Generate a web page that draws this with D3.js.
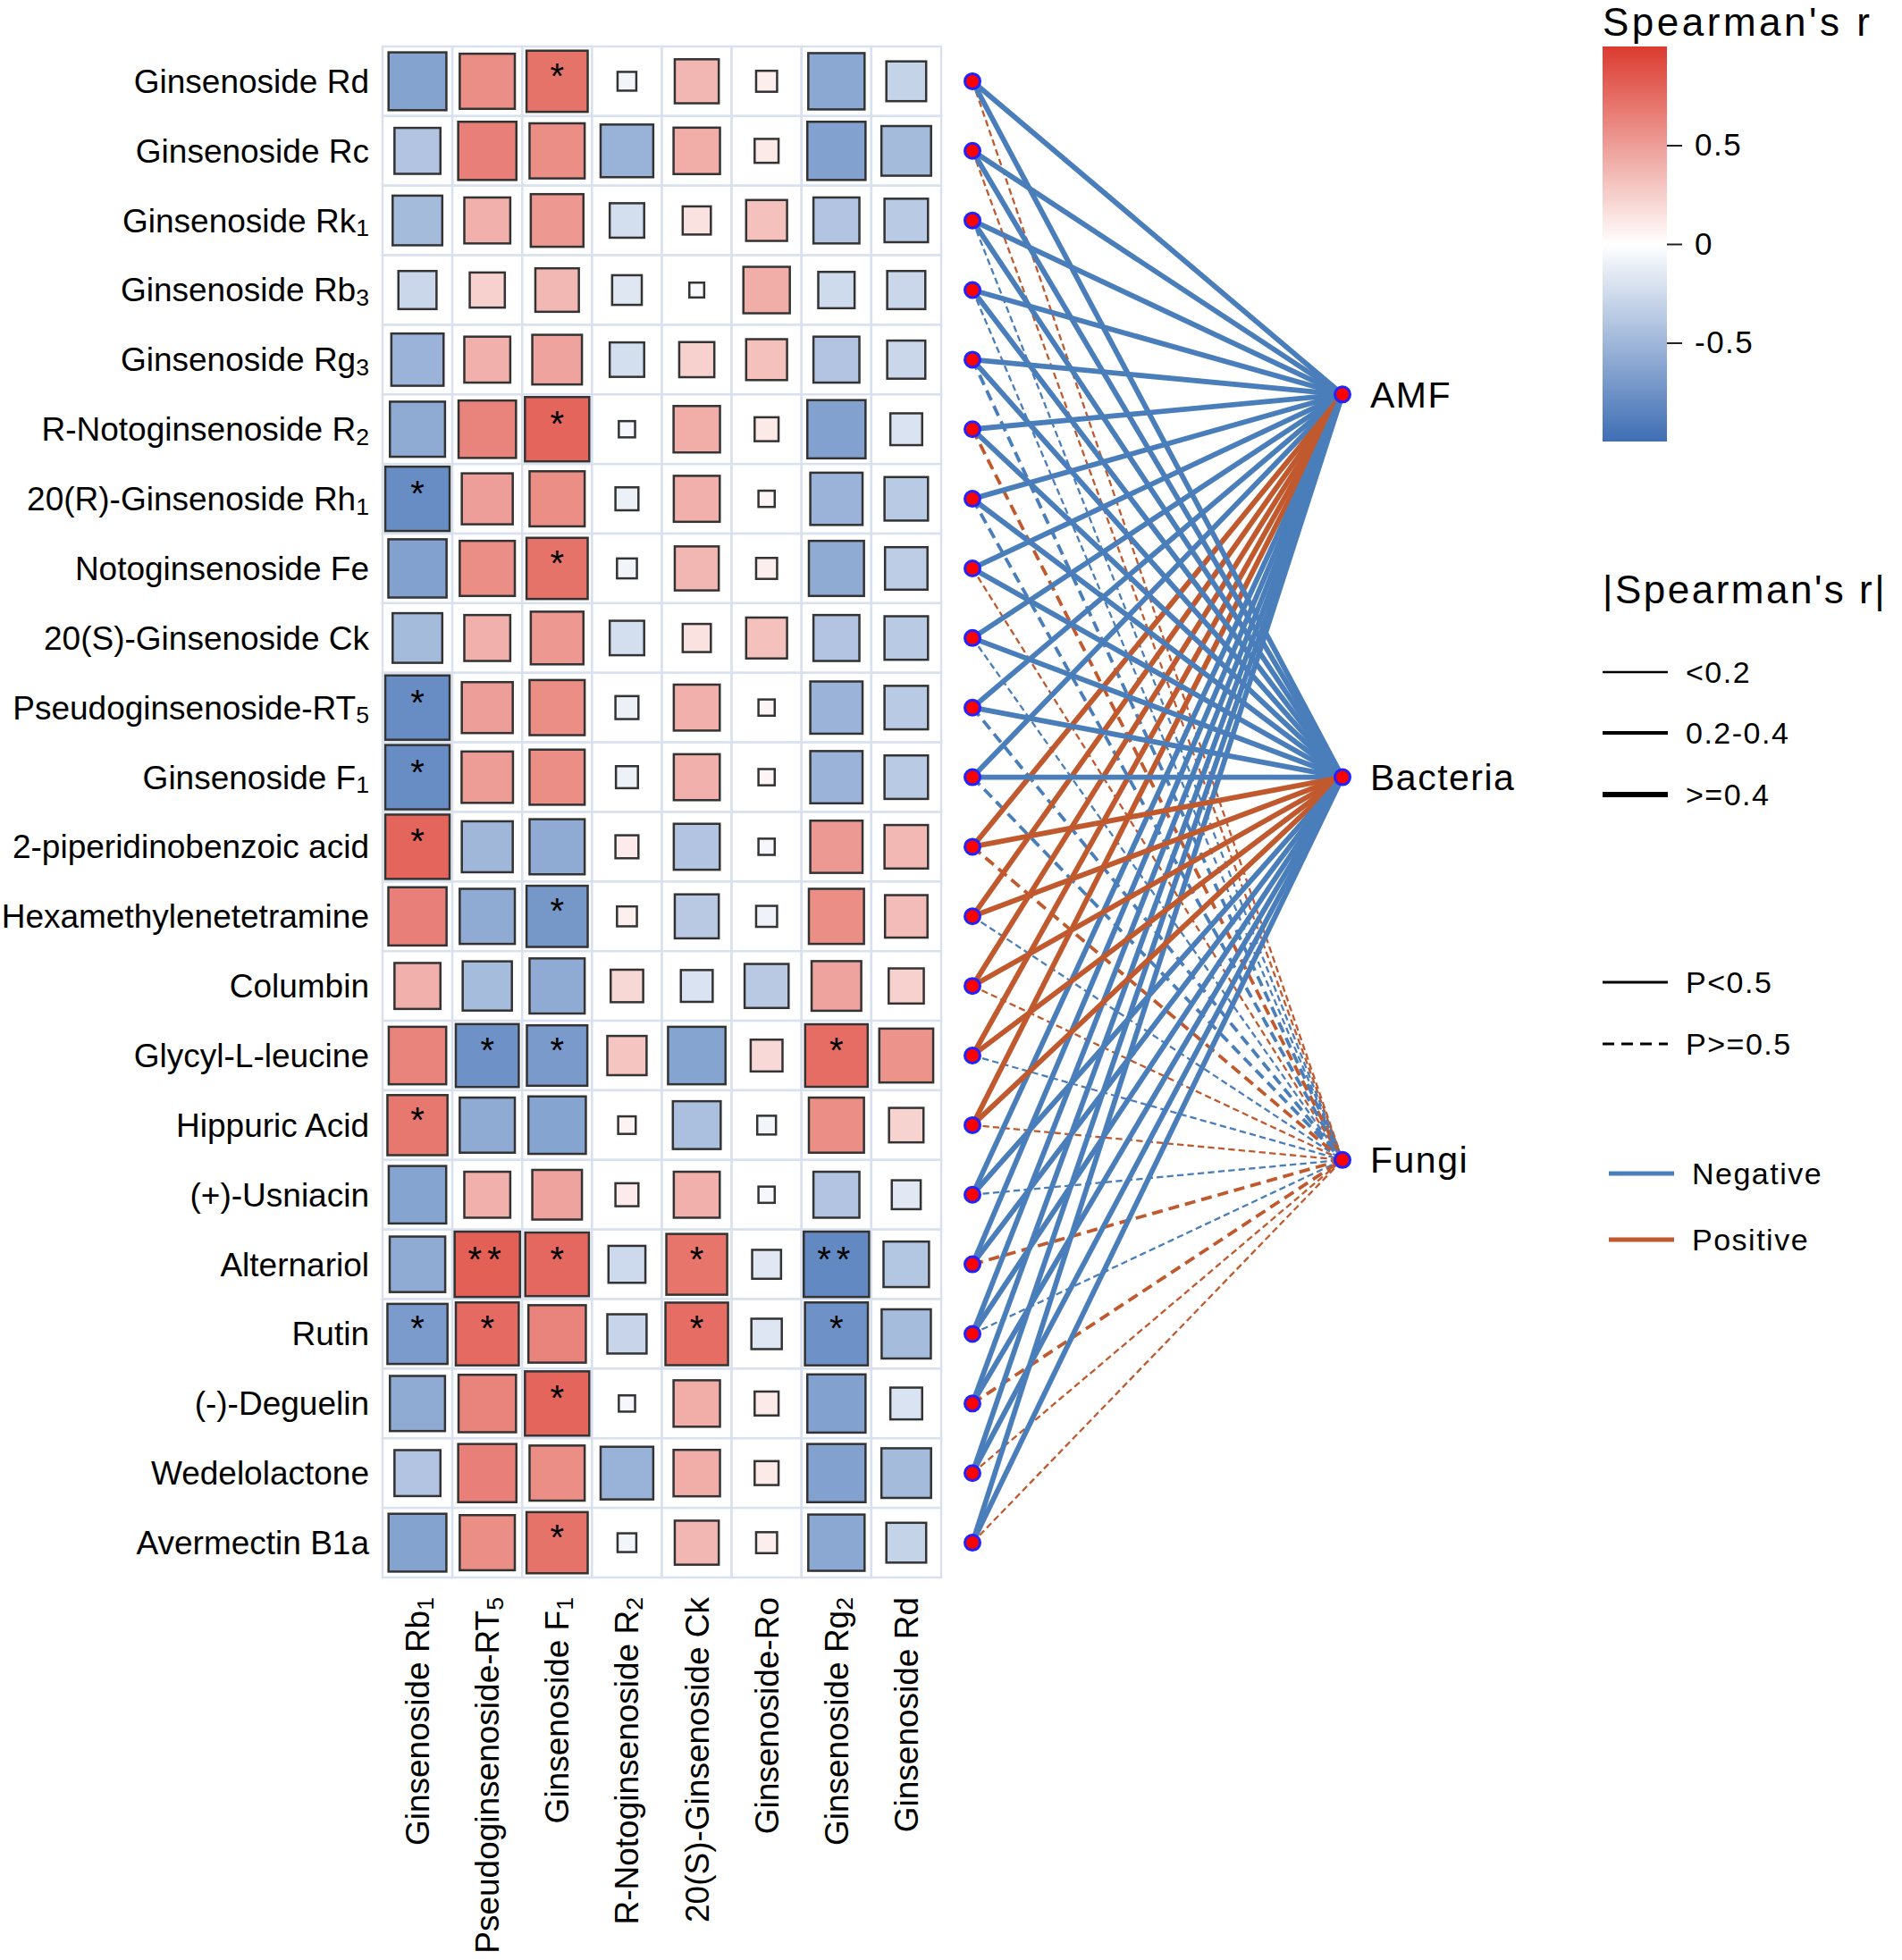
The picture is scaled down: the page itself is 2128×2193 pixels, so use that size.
<!DOCTYPE html>
<html>
<head>
<meta charset="utf-8">
<style>
  body { margin: 0; background: #fff; }
  text { font-family: "Liberation Sans", Arial, sans-serif; fill: #000; }
</style>
</head>
<body>
<div id="chart"></div>
<script src="https://cdnjs.cloudflare.com/ajax/libs/d3/7.8.5/d3.min.js"></script>
<script>
// rows (metabolites) and columns (ginsenosides); "_x" marks a subscript
var metabolites = [
  "Ginsenoside Rd", "Ginsenoside Rc", "Ginsenoside Rk_1", "Ginsenoside Rb_3",
  "Ginsenoside Rg_3", "R-Notoginsenoside R_2", "20(R)-Ginsenoside Rh_1",
  "Notoginsenoside Fe", "20(S)-Ginsenoside Ck", "Pseudoginsenoside-RT_5",
  "Ginsenoside F_1", "2-piperidinobenzoic acid", "Hexamethylenetetramine",
  "Columbin", "Glycyl-L-leucine", "Hippuric Acid", "(+)-Usniacin",
  "Alternariol", "Rutin", "(-)-Deguelin", "Wedelolactone", "Avermectin B1a"
];
var ginsenosides = [
  "Ginsenoside Rb_1", "Pseudoginsenoside-RT_5", "Ginsenoside F_1",
  "R-Notoginsenoside R_2", "20(S)-Ginsenoside Ck", "Ginsenoside-Ro",
  "Ginsenoside Rg_2", "Ginsenoside Rd"
];

// Spearman's r, one row per metabolite (columns in ginsenosides order)
var corr = [
  [-0.76,  0.69,  0.85, -0.08,  0.44,  0.10, -0.72, -0.36],
  [-0.48,  0.77,  0.69, -0.63,  0.49,  0.13, -0.77, -0.56],
  [-0.56,  0.48,  0.63, -0.27,  0.18,  0.38, -0.48, -0.43],
  [-0.33,  0.28,  0.43, -0.20, -0.05,  0.49, -0.30, -0.33],
  [-0.62,  0.48,  0.56, -0.27,  0.28,  0.38, -0.48, -0.33],
  [-0.69,  0.75,  0.94, -0.06,  0.49,  0.13, -0.77, -0.23],
  [-0.94,  0.59,  0.69, -0.12,  0.48,  0.06, -0.62, -0.43],
  [-0.77,  0.69,  0.85, -0.09,  0.44,  0.10, -0.69, -0.41],
  [-0.56,  0.48,  0.63, -0.27,  0.18,  0.38, -0.48, -0.43],
  [-0.94,  0.59,  0.69, -0.12,  0.48,  0.06, -0.62, -0.43],
  [-0.94,  0.60,  0.69, -0.11,  0.48,  0.06, -0.62, -0.43],
  [ 0.94, -0.59, -0.69,  0.12, -0.48, -0.06,  0.62,  0.43],
  [ 0.77, -0.69, -0.85,  0.09, -0.44, -0.10,  0.69,  0.41],
  [ 0.48, -0.55, -0.69,  0.24, -0.23, -0.44,  0.56,  0.28],
  [ 0.75, -0.90, -0.83,  0.35, -0.75,  0.23,  0.89,  0.66],
  [ 0.82, -0.69, -0.75,  0.07, -0.52, -0.08,  0.69,  0.27],
  [-0.75,  0.48,  0.56,  0.12,  0.48, -0.06, -0.48, -0.19],
  [-0.70,  0.97,  0.92, -0.31,  0.84, -0.19, -0.97, -0.47],
  [-0.82,  0.90,  0.75, -0.35,  0.89, -0.21, -0.90, -0.55],
  [-0.69,  0.75,  0.94, -0.06,  0.49,  0.13, -0.77, -0.23],
  [-0.48,  0.77,  0.69, -0.63,  0.49,  0.13, -0.77, -0.56],
  [-0.76,  0.69,  0.85, -0.08,  0.44,  0.10, -0.72, -0.36]
];

// significance marks per cell
var stars = [
  ["", "", "*", "", "", "", "", ""],
  ["", "", "", "", "", "", "", ""],
  ["", "", "", "", "", "", "", ""],
  ["", "", "", "", "", "", "", ""],
  ["", "", "", "", "", "", "", ""],
  ["", "", "*", "", "", "", "", ""],
  ["*", "", "", "", "", "", "", ""],
  ["", "", "*", "", "", "", "", ""],
  ["", "", "", "", "", "", "", ""],
  ["*", "", "", "", "", "", "", ""],
  ["*", "", "", "", "", "", "", ""],
  ["*", "", "", "", "", "", "", ""],
  ["", "", "*", "", "", "", "", ""],
  ["", "", "", "", "", "", "", ""],
  ["", "*", "*", "", "", "", "*", ""],
  ["*", "", "", "", "", "", "", ""],
  ["", "", "", "", "", "", "", ""],
  ["", "**", "*", "", "*", "", "**", ""],
  ["*", "*", "", "", "*", "", "*", ""],
  ["", "", "*", "", "", "", "", ""],
  ["", "", "", "", "", "", "", ""],
  ["", "", "*", "", "", "", "", ""]
];

// links metabolite -> microbial community
var microbes = ["AMF", "Bacteria", "Fungi"];
var amfR = [-0.52, -0.50, -0.48, -0.47, -0.49, -0.53, -0.51, -0.52, -0.46, -0.50, -0.48,
             0.45,  0.47,  0.44,  0.49,  0.46, -0.51, -0.55, -0.53, -0.50, -0.48, -0.52];
var amfP = [0.12, 0.15, 0.18, 0.21, 0.16, 0.10, 0.13, 0.11, 0.22, 0.14, 0.17,
            0.24, 0.20, 0.26, 0.19, 0.23, 0.12, 0.08, 0.10, 0.13, 0.18, 0.11];
var bacteriaR = [-0.50, -0.47, -0.49, -0.45, -0.48, -0.51, -0.53, -0.50, -0.47, -0.52, -0.49,
                  0.48,  0.46,  0.45,  0.50,  0.44, -0.49, -0.54, -0.52, -0.51, -0.47, -0.50];
var bacteriaP = [0.14, 0.18, 0.16, 0.23, 0.17, 0.12, 0.11, 0.14, 0.19, 0.12, 0.15,
                 0.20, 0.22, 0.25, 0.16, 0.27, 0.15, 0.09, 0.11, 0.12, 0.19, 0.14];
var fungiR = [ 0.12,  0.10, -0.14, -0.11, -0.28,  0.31, -0.26,  0.13, -0.12, -0.27, -0.29,
               0.25, -0.15,  0.11, -0.13,  0.12, -0.14,  0.34, -0.12,  0.33,  0.16,  0.13];
var fungiP = [0.71, 0.78, 0.66, 0.74, 0.58, 0.55, 0.61, 0.69, 0.73, 0.60, 0.57,
              0.62, 0.67, 0.76, 0.70, 0.72, 0.68, 0.52, 0.75, 0.54, 0.64, 0.70];

var colorTicks = [0.5, 0, -0.5];
var widthBreaks = ["<0.2", "0.2-0.4", ">=0.4"];
var pBreaks = ["P<0.5", "P>=0.5"];
var signLabels = ["Negative", "Positive"];

var W = 2128, H = 2193;
var svg = d3.select("#chart").append("svg")
  .attr("width", W).attr("height", H);

var blue = "#4A7EBB", orange = "#C05A2E";

var x = d3.scaleBand().domain(d3.range(ginsenosides.length)).range([428, 1053]);
var y = d3.scaleBand().domain(d3.range(metabolites.length)).range([52, 1765]);
var rowPos = d3.scaleLinear().domain([0, metabolites.length]).range([52, 1765]);
var size = d3.scaleSqrt().domain([0, 1]).range([0, x.bandwidth() * 0.95]);
var color = d3.scaleLinear().domain([-1, 0, 1]).range(["#3F6EB4", "#FFFFFF", "#DC3B2F"]);

function label(sel, name) {
  var parts = name.split("_");
  sel.append("tspan").text(parts[0]);
  if (parts[1]) {
    sel.append("tspan").attr("font-size", "0.72em").attr("dy", "0.18em").text(parts[1]);
  }
}

// ---- heatmap ----
var cells = [];
corr.forEach(function(row, i) {
  row.forEach(function(r, j) { cells.push({i: i, j: j, r: r, s: stars[i][j]}); });
});

var hm = svg.append("g");
hm.selectAll("rect.bg").data(cells).enter().append("rect")
  .attr("class", "bg")
  .attr("x", function(d) { return x(d.j); })
  .attr("y", function(d) { return y(d.i); })
  .attr("width", x.bandwidth())
  .attr("height", y.bandwidth())
  .attr("fill", "#fff")
  .attr("stroke", "#D9E1EF")
  .attr("stroke-width", 2.5);

hm.selectAll("rect.sq").data(cells).enter().append("rect")
  .attr("class", "sq")
  .attr("x", function(d) { return x(d.j) + x.bandwidth() / 2 - size(Math.abs(d.r)) / 2; })
  .attr("y", function(d) { return y(d.i) + y.bandwidth() / 2 - size(Math.abs(d.r)) / 2; })
  .attr("width", function(d) { return size(Math.abs(d.r)); })
  .attr("height", function(d) { return size(Math.abs(d.r)); })
  .attr("fill", function(d) { return color(d.r); })
  .attr("fill-opacity", 0.84)
  .attr("stroke", "#333")
  .attr("stroke-width", 2.5);

hm.selectAll("text.star").data(cells.filter(function(d) { return d.s; })).enter().append("text")
  .attr("class", "star")
  .attr("x", function(d) { return x(d.j) + x.bandwidth() / 2; })
  .attr("y", function(d) { return y(d.i) + y.bandwidth() / 2 + 8; })
  .attr("text-anchor", "middle")
  .attr("font-size", 40)
  .attr("letter-spacing", function(d) { return d.s.length > 1 ? 6 : 0; })
  .text(function(d) { return d.s; });

// row labels
hm.selectAll("text.row").data(metabolites).enter().append("text")
  .attr("class", "row")
  .attr("x", 413)
  .attr("y", function(d, i) { return y(i) + y.bandwidth() / 2; })
  .attr("dy", "0.35em")
  .attr("text-anchor", "end")
  .attr("font-size", 37)
  .each(function(d) { label(d3.select(this), d); });

// column labels
hm.selectAll("text.col").data(ginsenosides).enter().append("text")
  .attr("class", "col")
  .attr("transform", function(d, j) {
    return "translate(" + (x(j) + x.bandwidth() / 2) + ",1787) rotate(-90)";
  })
  .attr("dy", "0.35em")
  .attr("text-anchor", "end")
  .attr("font-size", 37)
  .each(function(d) { label(d3.select(this), d); });

// ---- network ----
var leftX = 1088, rightX = 1502;
var targetY = [rowPos(5), rowPos(10.5), rowPos(16)];
var linkR = [amfR, bacteriaR, fungiR];
var linkP = [amfP, bacteriaP, fungiP];

function lineWidth(r) {
  var a = Math.abs(r);
  return a < 0.2 ? 2.3 : (a < 0.4 ? 3.8 : 5.8);
}

var links = [];
microbes.forEach(function(m, k) {
  metabolites.forEach(function(name, i) {
    links.push({i: i, k: k, r: linkR[k][i], p: linkP[k][i]});
  });
});
links.sort(function(a, b) { return (b.p >= 0.5) - (a.p >= 0.5); });

var net = svg.append("g");
net.selectAll("line").data(links).enter().append("line")
  .attr("x1", leftX)
  .attr("y1", function(d) { return y(d.i) + y.bandwidth() / 2; })
  .attr("x2", rightX)
  .attr("y2", function(d) { return targetY[d.k]; })
  .attr("stroke", function(d) { return d.r < 0 ? blue : orange; })
  .attr("stroke-width", function(d) { return lineWidth(d.r); })
  .attr("stroke-dasharray", function(d) {
    var w = lineWidth(d.r);
    return d.p >= 0.5 ? (w * 3.2) + "," + (w * 1.8) : null;
  });

net.selectAll("circle.src").data(metabolites).enter().append("circle")
  .attr("class", "src")
  .attr("cx", leftX)
  .attr("cy", function(d, i) { return y(i) + y.bandwidth() / 2; })
  .attr("r", 8.5)
  .attr("fill", "#FF0000")
  .attr("stroke", "#2222FF")
  .attr("stroke-width", 3);

net.selectAll("circle.tgt").data(microbes).enter().append("circle")
  .attr("class", "tgt")
  .attr("cx", rightX)
  .attr("cy", function(d, k) { return targetY[k]; })
  .attr("r", 8.5)
  .attr("fill", "#FF0000")
  .attr("stroke", "#2222FF")
  .attr("stroke-width", 3);

net.selectAll("text.tgt").data(microbes).enter().append("text")
  .attr("class", "tgt")
  .attr("x", rightX + 31)
  .attr("y", function(d, k) { return targetY[k]; })
  .attr("dy", "0.35em")
  .attr("font-size", 41)
  .attr("letter-spacing", 1.5)
  .text(function(d) { return d; });

// ---- legends ----
var lg = svg.append("g");
var lx = 1793;

lg.append("text").attr("x", lx).attr("y", 40)
  .attr("font-size", 44).attr("letter-spacing", 3.5)
  .text("Spearman's r");

var defs = svg.append("defs");
var grad = defs.append("linearGradient").attr("id", "cbar")
  .attr("x1", 0).attr("y1", 1).attr("x2", 0).attr("y2", 0);
d3.range(0, 1.0001, 0.1).forEach(function(t) {
  grad.append("stop").attr("offset", t).attr("stop-color", color(-1 + 2 * t));
});

var cb = d3.scaleLinear().domain([-1, 1]).range([494, 52]);
lg.append("rect").attr("x", lx).attr("y", cb(1))
  .attr("width", 72).attr("height", cb(-1) - cb(1))
  .attr("fill", "url(#cbar)");
var cbAxis = lg.append("g").attr("transform", "translate(" + (lx + 72) + ",0)")
  .call(d3.axisRight(cb).tickValues(colorTicks).tickSize(17).tickPadding(14)
    .tickFormat(function(d) { return String(d); }));
cbAxis.select(".domain").remove();
cbAxis.selectAll("line").attr("stroke", "#222").attr("stroke-width", 2);
cbAxis.selectAll("text")
  .attr("font-family", "Liberation Sans, Arial, sans-serif")
  .attr("font-size", 35).attr("letter-spacing", 1.5).attr("fill", "#000");

lg.append("text").attr("x", lx).attr("y", 675)
  .attr("font-size", 44).attr("letter-spacing", 2.5)
  .text("|Spearman's r|");

var widthSamples = [0.1, 0.3, 0.5];
var wy = [752, 820, 889];
widthBreaks.forEach(function(t, i) {
  lg.append("line").attr("x1", lx).attr("x2", lx + 73)
    .attr("y1", wy[i]).attr("y2", wy[i])
    .attr("stroke", "#000").attr("stroke-width", lineWidth(widthSamples[i]));
  lg.append("text").attr("x", lx + 93).attr("y", wy[i]).attr("dy", "0.35em")
    .attr("font-size", 34).attr("letter-spacing", 1.5).text(t);
});

var py = [1099, 1168];
pBreaks.forEach(function(t, i) {
  lg.append("line").attr("x1", lx).attr("x2", lx + 73)
    .attr("y1", py[i]).attr("y2", py[i])
    .attr("stroke", "#000").attr("stroke-width", 3)
    .attr("stroke-dasharray", i === 1 ? "13,8" : null);
  lg.append("text").attr("x", lx + 93).attr("y", py[i]).attr("dy", "0.35em")
    .attr("font-size", 34).attr("letter-spacing", 1.5).text(t);
});

var sy = [1313, 1387];
var signColors = [blue, orange];
signLabels.forEach(function(t, i) {
  lg.append("line").attr("x1", lx + 7).attr("x2", lx + 80)
    .attr("y1", sy[i]).attr("y2", sy[i])
    .attr("stroke", signColors[i]).attr("stroke-width", 5);
  lg.append("text").attr("x", lx + 100).attr("y", sy[i]).attr("dy", "0.35em")
    .attr("font-size", 34).attr("letter-spacing", 1.5).text(t);
});
</script>
</body>
</html>
